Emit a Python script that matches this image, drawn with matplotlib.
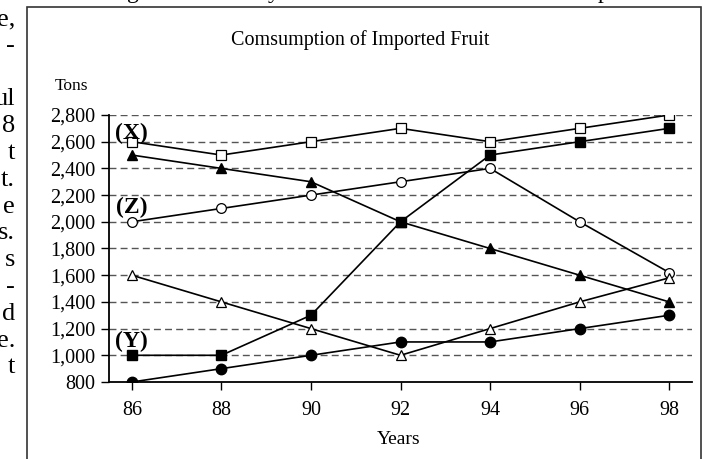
import matplotlib
matplotlib.use("Agg")
import matplotlib.pyplot as plt
from matplotlib.patches import Rectangle

plt.rcParams['font.family'] = ['Liberation Serif', 'DejaVu Serif']

years = [86, 88, 90, 92, 94, 96, 98]
year_labels = ["86", "88", "90", "92", "94", "96", "98"]
open_square = [2600, 2500, 2600, 2700, 2600, 2700, 2800]
filled_triangle = [2500, 2400, 2300, 2000, 1800, 1600, 1400]
open_circle = [2000, 2100, 2200, 2300, 2400, 2000, 1620]
open_triangle = [1600, 1400, 1200, 1000, 1200, 1400, 1580]
filled_square = [1000, 1000, 1300, 2000, 2500, 2600, 2700]
filled_circle = [800, 900, 1000, 1100, 1100, 1200, 1300]
y_ticks = [800, 1000, 1200, 1400, 1600, 1800, 2000, 2200, 2400, 2600, 2800]
y_tick_labels = ["800", "1,000", "1,200", "1,400", "1,600", "1,800", "2,000",
                 "2,200", "2,400", "2,600", "2,800"]
title = "Comsumption of Imported Fruit"
series_labels = ["(X)", "(Z)", "(Y)"]
series_label_pos = [(86, 2665), (86, 2111), (86, 1100)]
margin_words = ["e,", "-", "", "ul", "8", "t", "t.", "e", "s.", "s", "-", "d", "e.", "t"]
top_fragments = [("g", 127), ("y", 268), ("p", 598)]

W, H = 703, 459
fig = plt.figure(figsize=(W / 100, H / 100), dpi=100)
fig.patch.set_facecolor('white')

# border of the chart box
fig.patches.append(Rectangle((27 / W, -0.05), (701 - 27) / W, (H - 7) / H + 0.05,
                             transform=fig.transFigure, fill=False,
                             edgecolor='#333333', linewidth=1.2))

ax = fig.add_axes([109 / W, (H - 382) / H, (692 - 109) / W, (382 - 115) / H])
ax.set_xlim(85.49, 98.51)
ax.set_ylim(800, 2800)

for v in y_ticks[1:]:
    ax.axhline(v, color='#555555', linewidth=1.0, linestyle=(0, (5, 3)), zorder=1)

lw = 1.2
ms = 7
ax.plot(years, open_square, color='black', lw=lw, marker='s', ms=ms,
        mfc='white', mec='black', mew=0.9, zorder=3)
ax.plot(years, filled_triangle, color='black', lw=lw, marker='^', ms=ms + 0.5,
        mfc='black', mec='black', zorder=3)
ax.plot(years, open_circle, color='black', lw=lw, marker='o', ms=ms,
        mfc='white', mec='black', mew=0.9, zorder=3)
ax.plot(years, open_triangle, color='black', lw=lw, marker='^', ms=ms + 0.5,
        mfc='white', mec='black', mew=0.9, zorder=3)
ax.plot(years, filled_square, color='black', lw=lw, marker='s', ms=ms,
        mfc='black', mec='black', zorder=3)
ax.plot(years, filled_circle, color='black', lw=lw, marker='o', ms=ms + 0.5,
        mfc='black', mec='black', zorder=3)

for lab, (x, y) in zip(series_labels, series_label_pos):
    ax.text(x, y, lab, fontsize=17, fontweight='bold', ha='center', va='center', zorder=4)

ax.set_xticks(years)
ax.set_xticklabels(year_labels, fontsize=14.5)
ax.set_yticks(y_ticks)
ax.set_yticklabels(y_tick_labels, fontsize=14.5)
ax.tick_params(axis='x', direction='out', length=6, width=1, pad=8)
ax.tick_params(axis='y', direction='out', length=6, width=1, pad=4)
for s in ['top', 'right']:
    ax.spines[s].set_visible(False)
for s in ['left', 'bottom']:
    ax.spines[s].set_linewidth(1.3)
ax.set_facecolor('none')

fig.text(360 / W, 1 - 40 / H, title, fontsize=14.5, ha='center', va='center')
fig.text(55 / W, 1 - 86 / H, "Tons", fontsize=12.5, ha='left', va='center')
fig.text(399 / W, 1 - 440 / H, "Years", fontsize=14, ha='center', va='center')

for i, w in enumerate(margin_words):
    if not w:
        continue
    yb = 25 + 26.8 * i
    fig.text(15 / W, 1 - yb / H, w, fontsize=19, ha='right', va='baseline')

for ch, x in top_fragments:
    fig.text(x / W, 1 + 2 / H, ch, fontsize=17, ha='left', va='baseline')

fig.savefig("out.png", dpi=100)
